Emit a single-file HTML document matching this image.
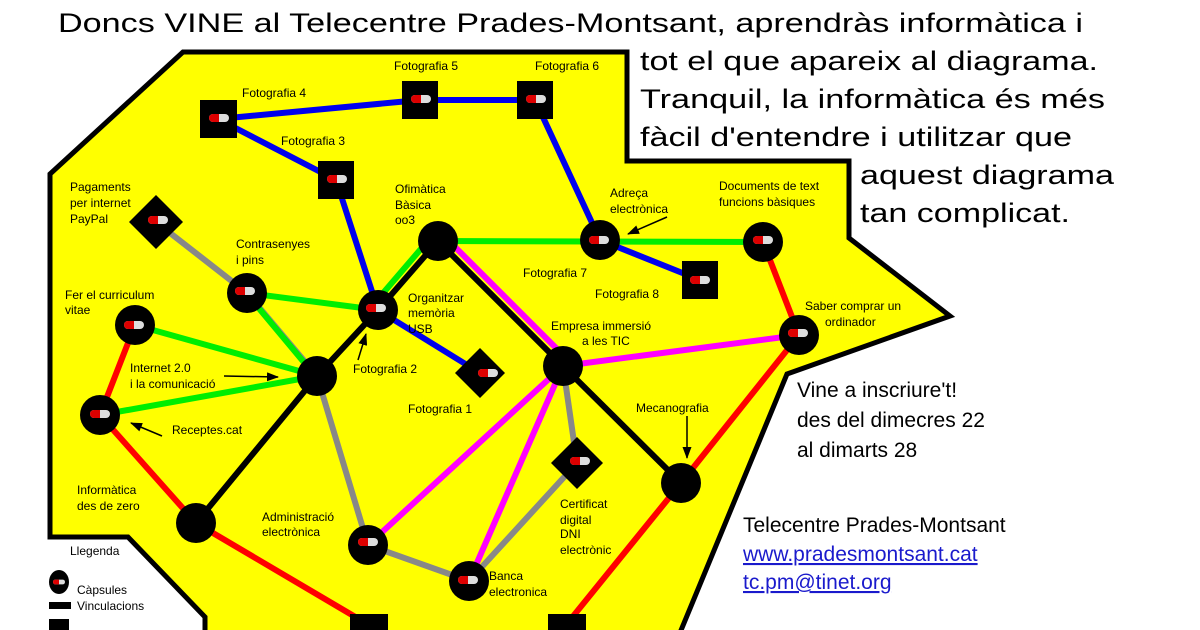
<!DOCTYPE html>
<html><head><meta charset="utf-8"><style>
html,body{margin:0;padding:0;background:#fff;width:1200px;height:630px;overflow:hidden}
svg{display:block}
text{font-family:"Liberation Sans",sans-serif;fill:#000}
.s{font-size:12px}
.b{font-size:27px}
.m{font-size:21px}
.l{fill:#1a1acc}
</style></head><body>
<svg width="1200" height="630" viewBox="0 0 1200 630" xmlns="http://www.w3.org/2000/svg">
<defs>
<g id="pill"><rect x="-10" y="-4" width="20" height="8" rx="4" fill="#ddd"/><path d="M-6,-4 H0 V4 H-6 A4,4 0 0 1 -6,-4Z" fill="#d00"/></g>
<marker id="ar" markerWidth="12" markerHeight="9" refX="11" refY="4.5" orient="auto" markerUnits="userSpaceOnUse"><path d="M0,0 L12,4.5 L0,9Z" fill="#000"/></marker>
</defs>
<polygon points="183,52 627,52 627,161 849,161 849,238 950,316 787,374 677,640 205,640 205,617 128,537 50,537 50,174" fill="#ffff00" stroke="#000" stroke-width="5" stroke-linejoin="miter"/>
<g stroke-width="6" fill="none" stroke-linecap="round">
<g stroke="#0000ee"><line x1="218" y1="119" x2="420" y2="100"/><line x1="420" y1="100" x2="535" y2="100"/><line x1="218" y1="119" x2="336" y2="180"/><line x1="336" y1="180" x2="378" y2="310"/><line x1="535" y1="100" x2="600" y2="240"/><line x1="600" y1="240" x2="700" y2="280"/><line x1="378" y1="310" x2="480" y2="373"/></g>
<g stroke="#888"><line x1="156" y1="222" x2="247" y2="293"/><line x1="247" y1="293" x2="317" y2="376"/><line x1="317" y1="376" x2="368" y2="545"/><line x1="368" y1="545" x2="469" y2="581"/><line x1="469" y1="581" x2="577" y2="463"/><line x1="577" y1="463" x2="563" y2="366"/></g>
<g stroke="#00ee00"><line x1="438" y1="241" x2="763" y2="242"/><line x1="432" y1="236" x2="372" y2="306"/><line x1="247" y1="293" x2="378" y2="310"/><line x1="252" y1="300" x2="312" y2="372"/><line x1="135" y1="325" x2="317" y2="376"/><line x1="100" y1="415" x2="317" y2="376"/></g>
<g stroke="#ff00ff"><line x1="444" y1="236" x2="569" y2="361"/><line x1="563" y1="366" x2="799" y2="335"/><line x1="563" y1="366" x2="368" y2="545"/><line x1="563" y1="366" x2="469" y2="581"/></g>
<g stroke="#000"><polyline points="438,241 378,310 317,376 196,523"/><line x1="438" y1="241" x2="563" y2="366"/><line x1="563" y1="366" x2="681" y2="483"/></g>
<g stroke="#ff0000"><line x1="135" y1="325" x2="100" y2="415"/><line x1="100" y1="415" x2="196" y2="523"/><line x1="196" y1="523" x2="369" y2="625"/><line x1="763" y1="242" x2="799" y2="335"/><line x1="799" y1="335" x2="681" y2="483"/><line x1="681" y1="483" x2="566" y2="625"/></g>
</g>
<g fill="#000">
<rect x="200" y="100" width="37" height="38"/><rect x="402" y="81" width="36" height="38"/><rect x="517" y="81" width="36" height="38"/><rect x="318" y="161" width="36" height="38"/><rect x="682" y="261" width="36" height="38"/>
<rect x="350" y="614" width="38" height="20"/><rect x="548" y="614" width="38" height="20"/>
<polygon points="156,195 183,222 156,249 129,222"/><polygon points="480,348 505,373 480,398 455,373"/><polygon points="577,437 603,463 577,489 551,463"/>
<circle cx="247" cy="293" r="20"/><circle cx="378" cy="310" r="20"/><circle cx="438" cy="241" r="20"/><circle cx="135" cy="325" r="20"/><circle cx="317" cy="376" r="20"/><circle cx="100" cy="415" r="20"/><circle cx="563" cy="366" r="20"/><circle cx="600" cy="240" r="20"/><circle cx="763" cy="242" r="20"/><circle cx="799" cy="335" r="20"/><circle cx="681" cy="483" r="20"/><circle cx="196" cy="523" r="20"/><circle cx="368" cy="545" r="20"/><circle cx="469" cy="581" r="20"/>
<ellipse cx="59" cy="582" rx="10" ry="12"/><rect x="49" y="602" width="22" height="7"/><rect x="49" y="619" width="20" height="12"/>
</g>
<use href="#pill" x="219" y="118"/><use href="#pill" x="421" y="99"/><use href="#pill" x="536" y="99"/><use href="#pill" x="337" y="179"/><use href="#pill" x="700" y="280"/><use href="#pill" x="158" y="220"/><use href="#pill" x="488" y="373"/><use href="#pill" x="580" y="461"/>
<use href="#pill" x="245" y="291"/><use href="#pill" x="376" y="308"/><use href="#pill" x="134" y="325"/><use href="#pill" x="100" y="414"/><use href="#pill" x="599" y="240"/><use href="#pill" x="763" y="240"/><use href="#pill" x="798" y="333"/><use href="#pill" x="368" y="542"/><use href="#pill" x="468" y="580"/>
<g transform="translate(59,582) scale(0.6)"><use href="#pill"/></g>
<g stroke="#000" stroke-width="1.5" fill="none" marker-end="url(#ar)">
<line x1="224" y1="376" x2="278" y2="377"/><line x1="162" y1="436" x2="131" y2="423"/><line x1="358" y1="360" x2="366" y2="334"/><line x1="667" y1="217" x2="628" y2="234"/><line x1="687" y1="416" x2="687" y2="458"/>
</g>
<g class="s">
<text x="242" y="97">Fotografia 4</text><text x="394" y="70">Fotografia 5</text><text x="535" y="70">Fotografia 6</text><text x="281" y="145">Fotografia 3</text>
<text x="70" y="191">Pagaments</text><text x="70" y="207">per internet</text><text x="70" y="223">PayPal</text>
<text x="395" y="193">Ofimàtica</text><text x="395" y="209">Bàsica</text><text x="395" y="224">oo3</text>
<text x="236" y="248">Contrasenyes</text><text x="236" y="264">i pins</text>
<text x="408" y="302">Organitzar</text><text x="408" y="317">memòria</text><text x="408" y="333">USB</text>
<text x="65" y="299">Fer el curriculum</text><text x="65" y="314">vitae</text>
<text x="130" y="372">Internet 2.0</text><text x="130" y="388">i la comunicació</text>
<text x="353" y="373">Fotografia 2</text><text x="408" y="413">Fotografia 1</text>
<text x="172" y="434">Receptes.cat</text>
<text x="77" y="494">Informàtica</text><text x="77" y="510">des de zero</text>
<text x="262" y="521">Administració</text><text x="262" y="536">electrònica</text>
<text x="560" y="508">Certificat</text><text x="560" y="524">digital</text><text x="560" y="538">DNI</text><text x="560" y="554">electrònic</text>
<text x="489" y="580">Banca</text><text x="489" y="596">electronica</text>
<text x="610" y="197">Adreça</text><text x="610" y="213">electrònica</text>
<text x="719" y="190">Documents de text</text><text x="719" y="206">funcions bàsiques</text>
<text x="523" y="277">Fotografia 7</text><text x="595" y="298">Fotografia 8</text>
<text x="551" y="330">Empresa immersió</text><text x="582" y="345">a les TIC</text>
<text x="805" y="310">Saber comprar un</text><text x="825" y="326">ordinador</text>
<text x="636" y="412">Mecanografia</text>
<text x="70" y="555">Llegenda</text><text x="77" y="594">Càpsules</text><text x="77" y="610">Vinculacions</text>
</g>
<g class="b">
<text x="58" y="32" textLength="1025" lengthAdjust="spacingAndGlyphs">Doncs VINE al Telecentre Prades-Montsant, aprendràs informàtica i</text>
<text x="640" y="70" textLength="458" lengthAdjust="spacingAndGlyphs">tot el que apareix al diagrama.</text>
<text x="640" y="108" textLength="465" lengthAdjust="spacingAndGlyphs">Tranquil, la informàtica és més</text>
<text x="640" y="146" textLength="432" lengthAdjust="spacingAndGlyphs">fàcil d'entendre i utilitzar que</text>
<text x="860" y="184" textLength="254" lengthAdjust="spacingAndGlyphs">aquest diagrama</text>
<text x="860" y="222" textLength="210" lengthAdjust="spacingAndGlyphs">tan complicat.</text>
</g>
<g class="m">
<text x="797" y="397">Vine a inscriure't!</text><text x="797" y="427">des del dimecres 22</text><text x="797" y="457">al dimarts 28</text>
<text x="743" y="532">Telecentre Prades-Montsant</text>
<text x="743" y="561" class="l" text-decoration="underline">www.pradesmontsant.cat</text>
<text x="743" y="589" class="l" text-decoration="underline">tc.pm@tinet.org</text>
</g>
</svg>
</body></html>
